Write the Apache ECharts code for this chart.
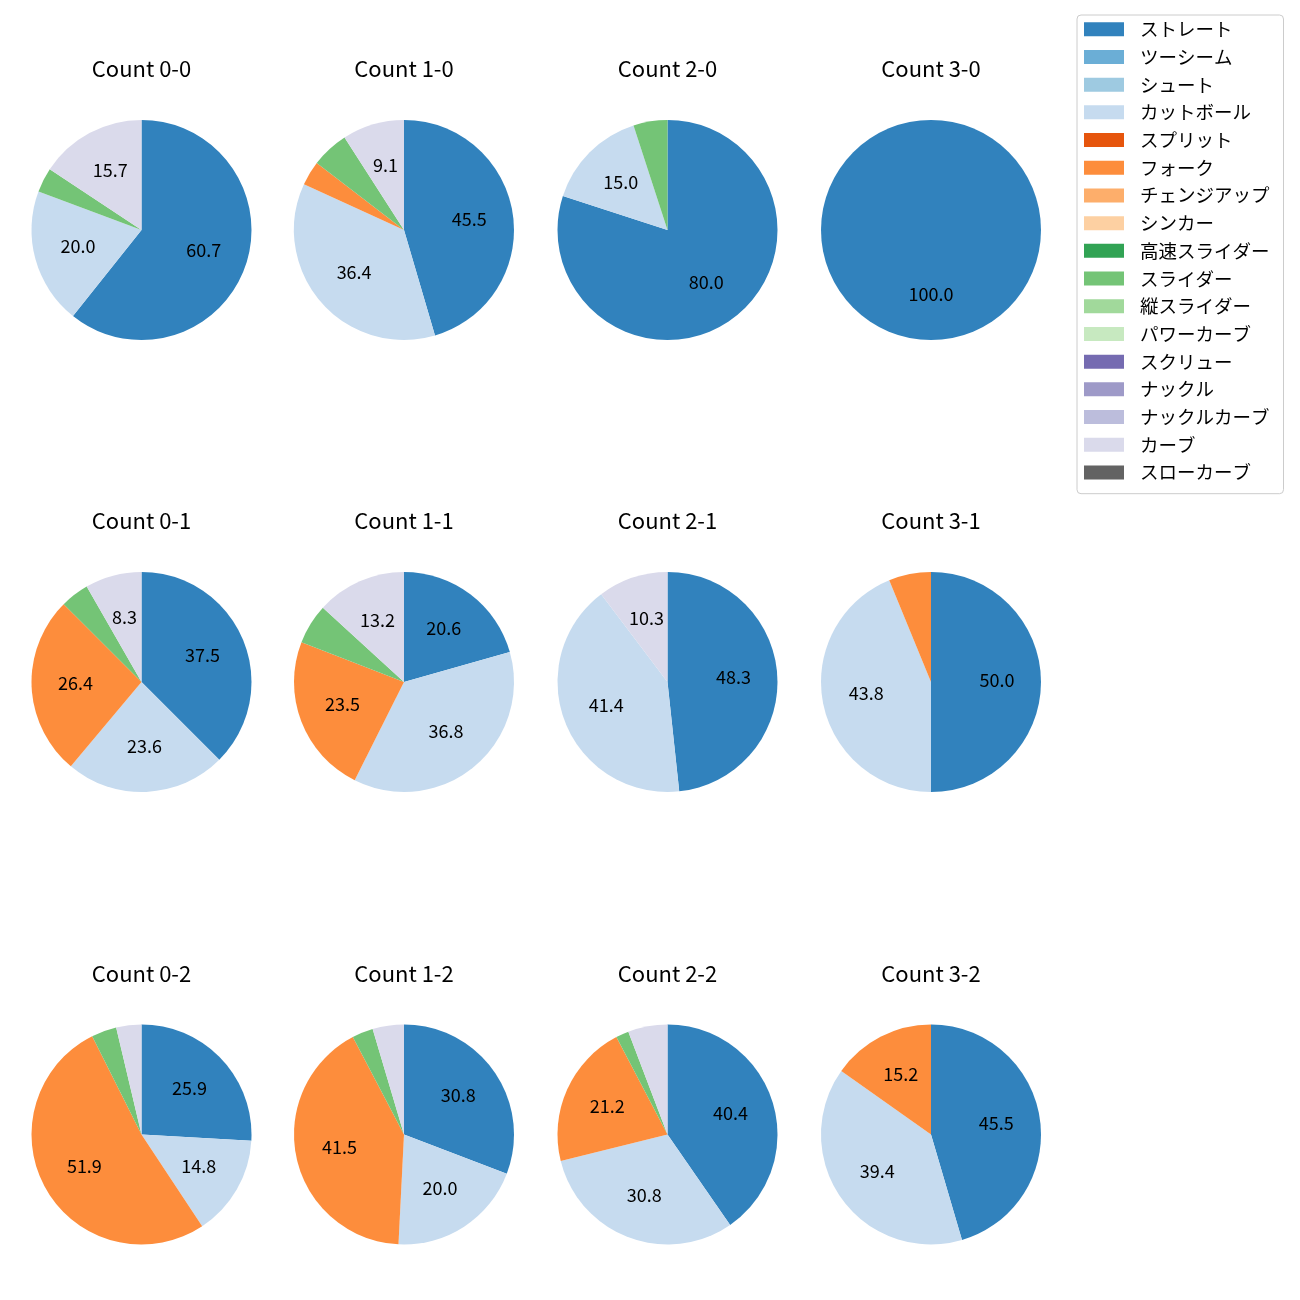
<!DOCTYPE html>
<html>
<head>
<meta charset="utf-8">
<script src="https://cdn.jsdelivr.net/npm/echarts@6/dist/echarts.min.js"></script>
<style>
html,body{margin:0;padding:0;background:#fff;}
#chart{width:1300px;height:1300px;}
</style>
</head>
<body>
<div id="chart"></div>
<script>
// Pitch types (legend order)
const pitchTypes = ['ストレート','ツーシーム','シュート','カットボール','スプリット','フォーク','チェンジアップ','シンカー','高速スライダー','スライダー','縦スライダー','パワーカーブ','スクリュー','ナックル','ナックルカーブ','カーブ','スローカーブ'];
const pitchColors = ['#3182bd','#6baed6','#9ecae1','#c6dbef','#e6550d','#fd8d3c','#fdae6b','#fdd0a2','#31a354','#74c476','#a1d99b','#c7e9c0','#756bb1','#9e9ac8','#bcbddc','#dadaeb','#636363'];

// Percentages per count, in pitchTypes order
const count00 = [60.7,0,0,20.0,0,0,0,0,0,3.6,0,0,0,0,0,15.7,0];
const count10 = [45.5,0,0,36.4,0,3.6,0,0,0,5.5,0,0,0,0,0,9.1,0];
const count20 = [80.0,0,0,15.0,0,0,0,0,0,5.0,0,0,0,0,0,0,0];
const count30 = [100.0,0,0,0,0,0,0,0,0,0,0,0,0,0,0,0,0];
const count01 = [37.5,0,0,23.6,0,26.4,0,0,0,4.2,0,0,0,0,0,8.3,0];
const count11 = [20.6,0,0,36.8,0,23.5,0,0,0,5.9,0,0,0,0,0,13.2,0];
const count21 = [48.3,0,0,41.4,0,0,0,0,0,0,0,0,0,0,0,10.3,0];
const count31 = [50.0,0,0,43.8,0,6.2,0,0,0,0,0,0,0,0,0,0,0];
const count02 = [25.9,0,0,14.8,0,51.9,0,0,0,3.7,0,0,0,0,0,3.7,0];
const count12 = [30.8,0,0,20.0,0,41.5,0,0,0,3.1,0,0,0,0,0,4.6,0];
const count22 = [40.4,0,0,30.8,0,21.2,0,0,0,1.9,0,0,0,0,0,5.8,0];
const count32 = [45.5,0,0,39.4,0,15.2,0,0,0,0,0,0,0,0,0,0,0];

const panelTitles = ['Count 0-0','Count 1-0','Count 2-0','Count 3-0','Count 0-1','Count 1-1','Count 2-1','Count 3-1','Count 0-2','Count 1-2','Count 2-2','Count 3-2'];
const panelData = [count00,count10,count20,count30,count01,count11,count21,count31,count02,count12,count22,count32];

const colX = [141.5, 404, 667.5, 931];
const rowY = [230, 682, 1134.5];
const R = 110;
const labelMin = 7;
const FONT = '"Noto Sans CJK JP", "Noto Sans", sans-serif';

const series = [];
const graphics = [];
panelData.forEach(function (vals, i) {
  const cx = colX[i % 4], cy = rowY[Math.floor(i / 4)];
  const data = pitchTypes.map(function (n, k) { return { name: n, value: vals[k], itemStyle: { color: pitchColors[k] } }; });
  series.push({
    type: 'pie', name: panelTitles[i], center: [cx, cy], radius: [0, R],
    startAngle: 90, clockwise: true, avoidLabelOverlap: false, animation: false,
    label: { show: false }, labelLine: { show: false },
    itemStyle: { borderWidth: 0 }, emphasis: { disabled: true },
    data: data
  });
  graphics.push({
    type: 'text', x: cx, y: cy - 161,
    style: { text: panelTitles[i], font: '22px ' + FONT, fill: '#000', align: 'center', verticalAlign: 'middle', textAlign: 'center', textVerticalAlign: 'middle' }
  });
});
// label overlay series: transparent ring so 'inside' labels sit at ~0.58R
panelData.forEach(function (vals, i) {
  const cx = colX[i % 4], cy = rowY[Math.floor(i / 4)];
  series.push({
    type: 'pie', name: panelTitles[i] + ' labels', center: [cx, cy], radius: [16, R],
    startAngle: 90, clockwise: true, avoidLabelOverlap: false, animation: false, silent: true,
    legendHoverLink: false,
    itemStyle: { color: 'rgba(0,0,0,0)', borderWidth: 0 },
    emphasis: { disabled: true },
    label: {
      show: true, position: 'inside', color: '#000', fontSize: 18, fontFamily: FONT, offset: [0, -1.5],
      formatter: function (p) { return p.value >= labelMin ? p.value.toFixed(1) : ''; }
    },
    labelLine: { show: false },
    data: pitchTypes.map(function (n, k) { return { name: n, value: vals[k] }; })
  });
});

const chart = echarts.init(document.getElementById('chart'), null, { renderer: 'canvas' });
chart.setOption({
  backgroundColor: '#fff',
  animation: false,
  legend: {
    data: pitchTypes, orient: 'vertical', left: 1077, top: 15,
    icon: 'rect', itemWidth: 40, itemHeight: 14, itemGap: 9.2,
    padding: [5, 14, 12, 7],
    borderColor: '#cccccc', borderWidth: 1, borderRadius: 4,
    selectedMode: false,
    textStyle: { fontSize: 18.5, fontFamily: FONT, color: '#000', padding: [0, 0, 0, 11] }
  },
  graphic: graphics,
  series: series
});
</script>
</body>
</html>
